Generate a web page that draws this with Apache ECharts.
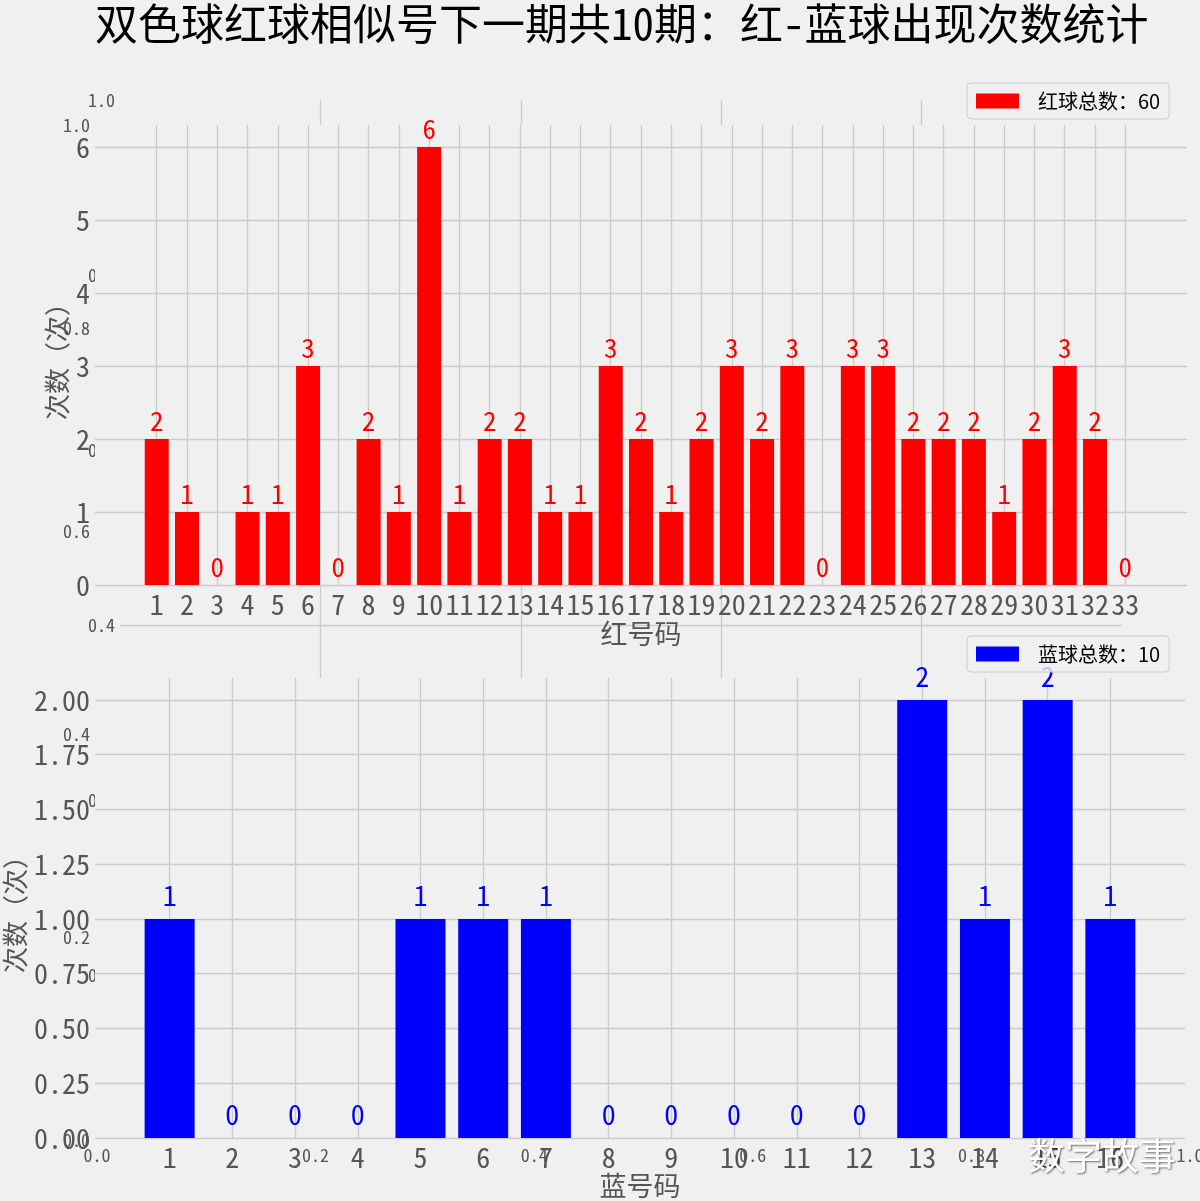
<!DOCTYPE html>
<html><head><meta charset="utf-8">
<script src="https://cdn.jsdelivr.net/npm/echarts@6/dist/echarts.min.js"></script>
<style>html,body{margin:0;padding:0;background:#f0f0f0}#c{width:1200px;height:1201px}</style>
</head><body><div id="c"></div>
<script>
const chartTitle = '双色球红球相似号下一期共10期：红-蓝球出现次数统计';
const redBalls = [1,2,3,4,5,6,7,8,9,10,11,12,13,14,15,16,17,18,19,20,21,22,23,24,25,26,27,28,29,30,31,32,33];
const redCounts = [2,1,0,1,1,3,0,2,1,6,1,2,2,1,1,3,2,1,2,3,2,3,0,3,3,2,2,2,1,2,3,2,0];
const blueBalls = [1,2,3,4,5,6,7,8,9,10,11,12,13,14,15,16];
const blueCounts = [1,0,0,0,1,1,1,0,0,0,0,0,2,1,2,1];
const redAxisName = '红号码';
const blueAxisName = '蓝号码';
const yName = '次数（次）';
const watermark = '数字故事';

const sum = a => a.reduce((s, v) => s + v, 0);
const redName = '红球总数：' + sum(redCounts);
const blueName = '蓝球总数：' + sum(blueCounts);

const F = '"Noto Sans CJK SC", "Noto Sans", sans-serif';
const M = '"Noto Sans Mono CJK SC", "Noto Sans CJK SC", monospace';
const GRID = '#cbcbcb';
const TXT = '#555';

const chart = echarts.init(document.getElementById('c'), null, {renderer: 'canvas'});

const bgAxis = (gi, showLabel, showSplit, margin) => ({
  gridIndex: gi, type: 'value', min: 0, max: 1, interval: 0.2, z: 0,
  axisLine: {show: false}, axisTick: {show: false},
  axisLabel: {show: showLabel, fontSize: 18, color: TXT, fontFamily: M, margin: margin,
    formatter: v => v.toFixed(1)},
  splitLine: {show: showSplit, showMinLine: false, showMaxLine: false,
    lineStyle: {color: GRID, width: 1.3}}
});

const vLines = (cats) => ({
  silent: true, symbol: 'none', z: 3, animation: false,
  label: {show: false},
  lineStyle: {color: GRID, width: 1.3, type: 'solid'},
  emphasis: {disabled: true},
  data: cats.map(c => ({xAxis: c}))
});

const gridBase = {outerBoundsMode: 'none', containLabel: false};

const option = {
  backgroundColor: '#f0f0f0',
  animation: false,
  title: {
    text: chartTitle, left: 90, top: -3,
    textStyle: {fontSize: 43, fontWeight: 'normal', color: '#000', fontFamily: M}
  },
  grid: [
    Object.assign({left: 97, right: 10, top: 125, bottom: 61, show: false, z: 0}, gridBase),
    Object.assign({left: 120, right: 78, top: 100, bottom: 226, show: false, z: 0}, gridBase),
    Object.assign({left: 95, right: 13, top: 125, height: 460, show: true, backgroundColor: '#f0f0f0', borderWidth: 0, z: 1}, gridBase),
    Object.assign({left: 95, right: 15, top: 678, height: 460, show: true, backgroundColor: '#f0f0f0', borderWidth: 0, z: 1}, gridBase)
  ],
  xAxis: [
    bgAxis(0, true, false, 6),
    bgAxis(1, false, true, 5),
    {
      gridIndex: 2, type: 'value', min: -1.04, max: 35.04, z: 3,
      axisLine: {show: false}, axisTick: {show: false}, splitLine: {show: false},
      axisLabel: {customValues: redBalls, fontSize: 28, color: TXT, fontFamily: M, margin: 5},
      name: redAxisName, nameLocation: 'middle', nameGap: 35, nameMoveOverlap: false,
      nameTextStyle: {fontSize: 27, color: TXT, fontFamily: M}
    },
    {
      gridIndex: 3, type: 'value', min: -0.19, max: 17.19, z: 3,
      axisLine: {show: false}, axisTick: {show: false}, splitLine: {show: false},
      axisLabel: {customValues: blueBalls, fontSize: 28, color: TXT, fontFamily: M, margin: 5},
      name: blueAxisName, nameLocation: 'middle', nameGap: 34, nameMoveOverlap: false,
      nameTextStyle: {fontSize: 27, color: TXT, fontFamily: M}
    }
  ],
  yAxis: [
    bgAxis(0, true, false, 7),
    bgAxis(1, true, true, 5),
    {
      gridIndex: 2, type: 'value', min: 0, max: 6.3, interval: 1, z: 3,
      axisLine: {show: false}, axisTick: {show: false},
      axisLabel: {fontSize: 28, color: TXT, fontFamily: M, margin: 5,
        formatter: v => Number.isInteger(v) ? String(v) : ''},
      splitLine: {show: true, showMaxLine: false, lineStyle: {color: GRID, width: 1.3}},
      name: yName, nameLocation: 'middle', nameGap: 25, nameRotate: 90, nameMoveOverlap: false,
      nameTextStyle: {fontSize: 26, color: TXT, fontFamily: M}
    },
    {
      gridIndex: 3, type: 'value', min: 0, max: 2.1, interval: 0.25, z: 3,
      axisLine: {show: false}, axisTick: {show: false},
      axisLabel: {fontSize: 28, color: TXT, fontFamily: M, margin: 5,
        formatter: v => Math.abs(v * 4 - Math.round(v * 4)) < 1e-9 ? v.toFixed(2) : ''},
      splitLine: {show: true, showMaxLine: false, lineStyle: {color: GRID, width: 1.3}},
      name: yName, nameLocation: 'middle', nameGap: 67, nameRotate: 90, nameMoveOverlap: false,
      nameTextStyle: {fontSize: 26, color: TXT, fontFamily: M}
    }
  ],
  legend: [
    {
      left: 967, top: 83, data: [redName], icon: 'rect', itemWidth: 43, itemHeight: 15,
      padding: [8, 9, 8, 9], borderColor: '#cccccc', borderWidth: 1, borderRadius: 4,
      backgroundColor: 'rgba(240,240,240,0.8)', z: 6, selectedMode: false,
      textStyle: {fontSize: 20, color: '#000', fontFamily: F, padding: [0, 0, 0, 14]}
    },
    {
      left: 967, top: 636, data: [blueName], icon: 'rect', itemWidth: 43, itemHeight: 15,
      padding: [8, 9, 8, 9], borderColor: '#cccccc', borderWidth: 1, borderRadius: 4,
      backgroundColor: 'rgba(240,240,240,0.8)', z: 6, selectedMode: false,
      textStyle: {fontSize: 20, color: '#000', fontFamily: F, padding: [0, 0, 0, 14]}
    }
  ],
  series: [
    {
      name: redName, type: 'bar', xAxisIndex: 2, yAxisIndex: 2, z: 4,
      data: redBalls.map((b, i) => [b, redCounts[i]]),
      barWidth: 24,
      itemStyle: {color: '#ff0000'},
      label: {show: true, position: 'top', distance: 5, color: '#ff0000', fontSize: 27, fontFamily: M,
        formatter: p => String(p.value[1])},
      markLine: vLines(redBalls)
    },
    {
      name: blueName, type: 'bar', xAxisIndex: 3, yAxisIndex: 3, z: 4,
      data: blueBalls.map((b, i) => [b, blueCounts[i]]),
      barWidth: 50,
      itemStyle: {color: '#0000ff'},
      label: {show: true, position: 'top', distance: 10, color: '#0000ff', fontSize: 28, fontFamily: M,
        formatter: p => String(p.value[1])},
      markLine: vLines(blueBalls)
    }
  ],
  graphic: [
    {
      type: 'text', left: 1028, top: 1137, z: 100, silent: true,
      style: {text: watermark, fontSize: 37, fontFamily: F, fill: '#ffffff',
        textShadowColor: 'rgba(0,0,0,0.55)', textShadowBlur: 2, textShadowOffsetX: 1, textShadowOffsetY: 1}
    }
  ]
};
chart.setOption(option);
</script>
</body></html>
